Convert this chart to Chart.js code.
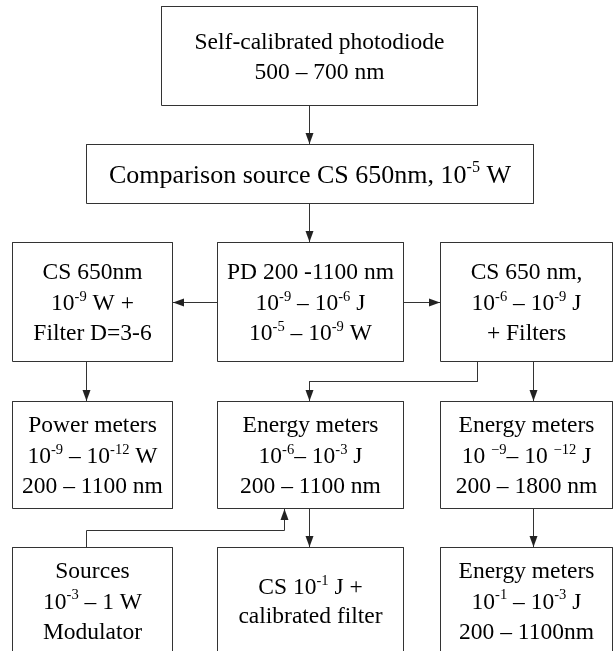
<!DOCTYPE html>
<html>
<head>
<meta charset="utf-8">
<script src="https://cdn.jsdelivr.net/npm/chart.js@4/dist/chart.umd.min.js"></script>
<style>
  html, body { margin: 0; padding: 0; background: #fff; }
  canvas { display: block; }
</style>
</head>
<body>
<canvas id="flowChart" width="613" height="651"></canvas>
<script>
// node ids and their texts (^{...} = superscript)
const nodeIds = ['pd', 'cs', 'csLow', 'pdWide', 'csFilt', 'power', 'energyMid', 'energyLow', 'sources', 'csHigh', 'energyHigh'];
const nodeText = [
    ['Self-calibrated photodiode', '500 – 700 nm'],
    ['Comparison source CS 650nm, 10^{-5} W'],
    ['CS 650nm', '10^{-9} W +', 'Filter D=3-6'],
    ['PD 200 -1100 nm', '10^{-9} – 10^{-6} J', '10^{-5} – 10^{-9} W'],
    ['CS 650 nm,', '10^{-6} – 10^{-9} J', '+ Filters'],
    ['Power meters', '10^{-9} – 10^{-12} W', '200 – 1100 nm'],
    ['Energy meters', '10^{-6}– 10^{-3} J', '200 – 1100 nm'],
    ['Energy meters', '10 ^{−9}– 10 ^{−12} J', '200 – 1800 nm'],
    ['Sources', '10^{-3} – 1 W', 'Modulator'],
    ['CS 10^{-1} J +', 'calibrated filter'],
    ['Energy meters', '10^{-1} – 10^{-3} J', '200 – 1100nm'],
];
// arrows: from -> to
const linkFrom = ['pd', 'cs', 'pdWide', 'pdWide', 'csLow', 'csFilt', 'csFilt', 'energyMid', 'energyLow', 'sources'];
const linkTo   = ['cs', 'pdWide', 'csLow', 'csFilt', 'power', 'energyMid', 'energyLow', 'csHigh', 'energyHigh', 'energyMid'];

// ---- layout (chart units, 0..613 x 0..651) ----
const boxPos = {
    pd:         [161.5, 6.5, 477.5, 105.5],
    cs:         [86.5, 144.5, 533.5, 203.5],
    csLow:      [12.5, 242.5, 172.5, 361.5],
    pdWide:     [217.5, 242.5, 403.5, 361.5],
    csFilt:     [440.5, 242.5, 612.5, 361.5],
    power:      [12.5, 401.5, 172.5, 508.5],
    energyMid:  [217.5, 401.5, 403.5, 508.5],
    energyLow:  [440.5, 401.5, 612.5, 508.5],
    sources:    [12.5, 547.5, 172.5, 654],
    csHigh:     [217.5, 547.5, 403.5, 654],
    energyHigh: [440.5, 547.5, 612.5, 654],
};
const linkRoute = [
    [[309.5, 105.5], [309.5, 144]],
    [[309.5, 203.5], [309.5, 242]],
    [[217.5, 302.5], [173, 302.5]],
    [[403.5, 302.5], [440, 302.5]],
    [[86.5, 361.5], [86.5, 401]],
    [[477.5, 361.5], [477.5, 381.5], [309.5, 381.5], [309.5, 401]],
    [[533.5, 361.5], [533.5, 401]],
    [[309.5, 508.5], [309.5, 547]],
    [[533.5, 508.5], [533.5, 547]],
    [[86.5, 547.5], [86.5, 530.5], [284.5, 530.5], [284.5, 509]],
];
const lineColor = '#333';
const fontFamily = '"Liberation Serif", "Times New Roman", serif';

const datasets = [];
nodeIds.forEach((id) => {
    const [l, t, r, b] = boxPos[id];
    datasets.push({
        data: [{x: l, y: t}, {x: r, y: t}, {x: r, y: b}, {x: l, y: b}, {x: l, y: t}],
        showLine: true, pointRadius: 0, borderWidth: 1,
        borderColor: lineColor, borderCapStyle: 'square', borderJoinStyle: 'miter'
    });
});
linkRoute.forEach((route) => {
    datasets.push({
        data: route.map((p) => ({x: p[0], y: p[1]})),
        showLine: true, pointRadius: 0, borderWidth: 1,
        borderColor: lineColor, borderJoinStyle: 'miter'
    });
});

function parseRich(str) {
    const out = [];
    let last = 0;
    str.replace(/\^\{([^}]*)\}/g, (m, sup, idx) => {
        if (idx > last) out.push({t: str.slice(last, idx), sup: false});
        out.push({t: sup, sup: true});
        last = idx + m.length;
    });
    if (last < str.length) out.push({t: str.slice(last), sup: false});
    return out;
}

function drawRich(ctx, str, cx, baseY, size) {
    const parts = parseRich(str);
    const supSize = size * 0.62;
    let total = 0;
    parts.forEach((p) => {
        ctx.font = (p.sup ? supSize : size) + 'px ' + fontFamily;
        p.w = ctx.measureText(p.t).width;
        total += p.w;
    });
    let x = cx - total / 2;
    parts.forEach((p) => {
        ctx.font = (p.sup ? supSize : size) + 'px ' + fontFamily;
        ctx.fillText(p.t, x, p.sup ? baseY - size * 0.4 : baseY);
        x += p.w;
    });
}

const flowPlugin = {
    id: 'flowPlugin',
    afterDatasetsDraw(chart) {
        const ctx = chart.ctx;
        const xs = chart.scales.x, ys = chart.scales.y;
        ctx.save();
        // arrow heads
        ctx.fillStyle = '#222';
        linkRoute.forEach((route) => {
            const a = route[route.length - 2], b = route[route.length - 1];
            const x1 = xs.getPixelForValue(a[0]), y1 = ys.getPixelForValue(a[1]);
            const x2 = xs.getPixelForValue(b[0]), y2 = ys.getPixelForValue(b[1]);
            const len = Math.hypot(x2 - x1, y2 - y1);
            const dx = (x2 - x1) / len, dy = (y2 - y1) / len;
            ctx.beginPath();
            ctx.moveTo(x2, y2);
            ctx.lineTo(x2 - dx * 11 - dy * 4, y2 - dy * 11 + dx * 4);
            ctx.lineTo(x2 - dx * 11 + dy * 4, y2 - dy * 11 - dx * 4);
            ctx.closePath();
            ctx.fill();
        });
        // texts
        ctx.fillStyle = '#000';
        ctx.textAlign = 'left';
        ctx.textBaseline = 'alphabetic';
        nodeIds.forEach((id, i) => {
            const [l, t, r, b] = boxPos[id];
            const lines = nodeText[i];
            const size = id === 'cs' ? 26 : 23.5;
            const gap = id === 'pd' ? 30 : (id === 'csHigh' ? 29 : 30.5);
            const cx = xs.getPixelForValue((l + r) / 2);
            const cy = ys.getPixelForValue((t + b) / 2);
            lines.forEach((line, k) => {
                const base = cy + (k - (lines.length - 1) / 2) * gap + size * 0.34;
                drawRich(ctx, line, cx, base, size);
            });
        });
        ctx.restore();
    }
};

const ctx = document.getElementById('flowChart').getContext('2d');
const chart = new Chart(ctx, {
    type: 'scatter',
    data: { datasets: datasets },
    options: {
        responsive: false,
        animation: false,
        devicePixelRatio: 1,
        events: [],
        layout: { padding: 0 },
        plugins: { legend: { display: false }, tooltip: { enabled: false } },
        scales: {
            x: { type: 'linear', min: 0, max: 613, display: false },
            y: { type: 'linear', min: 0, max: 651, reverse: true, display: false }
        }
    },
    plugins: [flowPlugin]
});
</script>
</body>
</html>
